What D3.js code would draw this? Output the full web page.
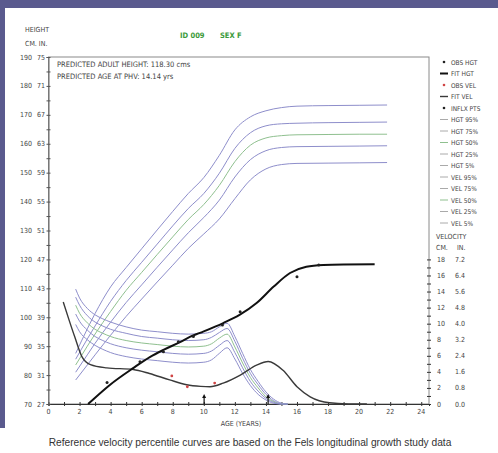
<!DOCTYPE html>
<html>
<head>
<meta charset="utf-8">
<script src="https://cdn.jsdelivr.net/npm/d3@7"></script>
<style>
body { margin: 0; background: #fff; }
svg text { font-family: "Liberation Sans Narrow", "DejaVu Sans Condensed", "Liberation Sans", sans-serif; }
</style>
</head>
<body>
<div class="canvas"></div>
<script>
// ---- data ----
const refHgtAges = [1.75, 2.5, 3, 4, 5, 6, 7, 8, 9, 10, 11, 12, 13, 14, 15, 16, 18, 20, 21.8];
const hgt95 = [87.5, 96, 101.3, 110.5, 117.2, 123.7, 130.2, 136.6, 142.8, 148.3, 156, 164.8, 169.3, 171.4, 172.5, 173, 173.2, 173.3, 173.4];
const hgt75 = [85.5, 92.5, 97, 105.5, 112.7, 119, 125.3, 131.6, 137.6, 142.8, 149.8, 158.4, 163.8, 166.2, 166.9, 167.1, 167.3, 167.4, 167.5];
const hgt50 = [83.5, 90, 94.2, 102, 109.3, 115.5, 121.7, 127.8, 133.8, 139, 145.6, 153.8, 159.5, 162, 162.8, 163.1, 163.2, 163.3, 163.3];
const hgt25 = [81, 87, 91, 98.3, 105.1, 111.2, 117.3, 123.3, 129.2, 134.5, 140.5, 148.5, 154.5, 157.6, 158.7, 159, 159.1, 159.2, 159.3];
const hgt5 = [78.3, 83.5, 87, 93.8, 100.3, 106.3, 112.2, 118, 123.8, 128.8, 134, 141, 147.5, 151.3, 152.8, 153.2, 153.3, 153.4, 153.5];

const refVelAges = [1.75, 2, 2.5, 3, 3.5, 4, 5, 6, 7, 8, 9, 10, 10.5, 11, 11.5, 12, 12.5, 13, 13.5, 14, 14.5, 15, 15.4];
const vel95 = [14.3, 13.2, 11.9, 11.1, 10.6, 10.2, 9.6, 9.2, 9.0, 8.8, 8.7, 8.8, 9.0, 9.6, 10.05, 8.4, 6.3, 4.3, 2.8, 1.5, 0.6, 0.1, 0];
const vel75 = [13.3, 12.3, 11.0, 10.2, 9.7, 9.3, 8.8, 8.4, 8.2, 8.0, 7.9, 8.0, 8.3, 8.9, 9.4, 7.8, 5.7, 3.8, 2.4, 1.2, 0.4, 0.05, 0];
const vel50 = [12.3, 11.3, 10.1, 9.3, 8.8, 8.4, 7.9, 7.6, 7.4, 7.2, 7.1, 7.2, 7.5, 8.2, 8.7, 7.1, 5.1, 3.3, 2.0, 0.9, 0.3, 0, 0];
const vel25 = [11.2, 10.3, 9.2, 8.4, 7.9, 7.5, 7.0, 6.7, 6.5, 6.3, 6.2, 6.3, 6.6, 7.3, 7.9, 6.4, 4.5, 2.8, 1.6, 0.7, 0.2, 0, 0];
const vel5 = [9.9, 9.0, 8.0, 7.3, 6.8, 6.4, 5.9, 5.6, 5.4, 5.2, 5.1, 5.2, 5.5, 6.3, 7.0, 5.6, 3.8, 2.3, 1.2, 0.5, 0.1, 0, 0];

const fitHgtAges = [2.55, 3.0, 3.95, 5.45, 6.55, 7.4, 8.5, 9.1, 9.75, 11.25, 12.3, 13.4, 14.5, 15.55, 16.6, 17.7, 19, 21];
const fitHgt = [70, 72.2, 76.6, 82.4, 86.3, 88.7, 91.5, 93.2, 94.6, 98, 100.8, 104.9, 110.6, 115.3, 117.5, 118.1, 118.25, 118.3];

const fitVelAges = [0.95, 1.3, 1.7, 2.15, 2.7, 3.75, 5.45, 6.5, 7.8, 8.9, 9.8, 10.4, 11.25, 12.35, 13.4, 14.15, 15.1, 16, 16.85, 18.1, 19.3, 20.5];
const fitVel = [12.7, 10.6, 8.3, 5.9, 4.9, 4.5, 4.3, 3.8, 3.0, 2.4, 2.2, 2.15, 2.6, 3.6, 4.85, 5.3, 4.2, 2.15, 0.9, 0.15, 0.02, 0];

const obsHgtAges = [3.77, 5.89, 7.4, 8.36, 9.33, 11.2, 12.34, 16.0, 17.4];
const obsHgt = [77.4, 84.6, 88.1, 91.5, 93.3, 97.3, 101.9, 114.0, 118.1];
const obsVelAges = [7.94, 8.94, 10.7];
const obsVel = [3.5, 2.15, 2.6];
const inflexAges = [10.02, 14.14];

const hgtTicks = [70, 80, 90, 100, 110, 120, 130, 140, 150, 160, 170, 180, 190];
const hgtInchLabels = ['27', '31', '35', '39', '43', '47', '51', '55', '59', '63', '67', '71', '75'];
const velTicks = [0, 2, 4, 6, 8, 10, 12, 14, 16, 18];
const velInchLabels = ['0.0', '0.8', '1.6', '2.4', '3.2', '4.0', '4.8', '5.6', '6.4', '7.2'];
const ageTicks = [0, 2, 4, 6, 8, 10, 12, 14, 16, 18, 20, 22, 24];

const legendLabels = ['OBS HGT', 'FIT HGT', 'OBS VEL', 'FIT VEL', 'INFLX PTS',
	'HGT 95%', 'HGT 75%', 'HGT 50%', 'HGT 25%', 'HGT  5%',
	'VEL 95%', 'VEL 75%', 'VEL 50%', 'VEL 25%', 'VEL  5%'];

const blue = '#8e8ecb';
const green = '#8fc08f';
const ink = '#333';

const svg = d3.select('.canvas')
	.append('svg')
	.attr('width', 498)
	.attr('height', 453);

// background frame
svg.append('rect').attr('width', 498).attr('height', 453).attr('fill', '#fff');
svg.append('rect').attr('width', 498).attr('height', 8).attr('fill', '#5a5a8e');
svg.append('rect').attr('width', 5).attr('height', 428).attr('fill', '#5a5a8e');

// scales
const x = d3.scaleLinear().domain([0, 24.5]).range([48.5, 429]);
const yH = d3.scaleLinear().domain([70, 190]).range([404, 57]);
const yV = d3.scaleLinear().domain([0, 18]).range([404, yH(120)]);

// plot box
svg.append('rect')
	.attr('x', x(0)).attr('y', yH(190))
	.attr('width', x(24.5) - x(0)).attr('height', yH(70) - yH(190))
	.attr('fill', 'none').attr('stroke', '#8a8a8a');

// axes
const xAxis = svg.append('g')
	.attr('transform', `translate(0,${yH(70)})`)
	.call(d3.axisBottom(x).tickValues(d3.range(0, 25, 1)).tickSize(2).tickFormat(''));
xAxis.selectAll('.tick line').attr('y1', -2).attr('y2', 2).attr('stroke', ink);
xAxis.select('.domain').attr('stroke', ink);
svg.append('g').selectAll('text')
	.data(ageTicks).enter().append('text')
	.attr('x', d => x(d)).attr('y', yH(70) + 9.5)
	.attr('text-anchor', 'middle').attr('font-size', 7).attr('fill', '#444')
	.text(d => d);

const yAxis = svg.append('g')
	.attr('transform', `translate(${x(0)},0)`)
	.call(d3.axisLeft(yH).tickValues(d3.range(70, 191, 5)).tickSize(2).tickFormat(''));
yAxis.selectAll('.tick line').attr('x1', -2).attr('x2', 2).attr('stroke', '#555');
yAxis.select('.domain').attr('stroke', '#666');
svg.append('g').selectAll('text')
	.data(hgtTicks).enter().append('text')
	.attr('x', 32).attr('y', d => yH(d) + 2.5)
	.attr('text-anchor', 'end').attr('font-size', 7).attr('fill', '#444')
	.text(d => d);
svg.append('g').selectAll('text')
	.data(hgtInchLabels).enter().append('text')
	.attr('x', 45).attr('y', (d, i) => yH(hgtTicks[i]) + 2.5)
	.attr('text-anchor', 'end').attr('font-size', 7).attr('fill', '#444')
	.text(d => d);

const vAxis = svg.append('g')
	.attr('transform', `translate(${x(24.5)},0)`)
	.call(d3.axisRight(yV).tickValues(d3.range(0, 19, 1)).tickSize(2).tickFormat(''));
vAxis.selectAll('.tick line').attr('x1', -2).attr('x2', 2).attr('stroke', ink);
vAxis.select('.domain').remove();
svg.append('g').selectAll('text')
	.data(velTicks).enter().append('text')
	.attr('x', 437).attr('y', d => yV(d) + 2.5)
	.attr('font-size', 7).attr('fill', '#444')
	.text(d => d);
svg.append('g').selectAll('text')
	.data(velInchLabels).enter().append('text')
	.attr('x', 455).attr('y', (d, i) => yV(velTicks[i]) + 2.5)
	.attr('font-size', 7).attr('fill', '#444')
	.text(d => d);

// titles
const label = (tx, ty, s, size, fill) => svg.append('text')
	.attr('x', tx).attr('y', ty).attr('font-size', size).attr('fill', fill || '#444').text(s);
label(25, 32, 'HEIGHT', 7);
label(25, 46, 'CM.  IN.', 7);
label(180, 38, 'ID 009', 7.5, '#3a9a3a').attr('font-weight', 'bold');
label(220, 38, 'SEX F', 7.5, '#3a9a3a').attr('font-weight', 'bold');
label(57, 67, 'PREDICTED ADULT HEIGHT: 118.30 cms', 7.5);
label(57, 79, 'PREDICTED AGE AT PHV:     14.14 yrs', 7.5);
label(436, 239, 'VELOCITY', 7);
label(436, 250, 'CM.', 7);
label(457, 250, 'IN.', 7);
svg.append('text').attr('x', 241).attr('y', 426)
	.attr('text-anchor', 'middle').attr('font-size', 7).attr('fill', '#444')
	.text('AGE (YEARS)');
svg.append('text').attr('x', 250).attr('y', 446)
	.attr('text-anchor', 'middle').attr('font-size', 10.2).attr('fill', '#333')
	.style('font-family', '"Liberation Sans", Arial, sans-serif')
	.text('Reference velocity percentile curves are based on the Fels longitudinal growth study data');

// curves
const hLine = d3.line().x(d => x(d[0])).y(d => yH(d[1])).curve(d3.curveMonotoneX);
const vLine = d3.line().x(d => x(d[0])).y(d => yV(d[1])).curve(d3.curveMonotoneX);
const zip = (a, b) => a.map((v, i) => [v, b[i]]);

const hgtRefs = [[hgt95, blue], [hgt75, blue], [hgt50, green], [hgt25, blue], [hgt5, blue]];
const velRefs = [[vel95, blue], [vel75, blue], [vel50, green], [vel25, blue], [vel5, blue]];

svg.append('g').selectAll('path')
	.data(hgtRefs).enter().append('path')
	.attr('d', d => hLine(zip(refHgtAges, d[0])))
	.attr('fill', 'none').attr('stroke', d => d[1]).attr('stroke-width', 1);
svg.append('g').selectAll('path')
	.data(velRefs).enter().append('path')
	.attr('d', d => vLine(zip(refVelAges, d[0])))
	.attr('fill', 'none').attr('stroke', d => d[1]).attr('stroke-width', 1);

svg.append('path')
	.attr('d', vLine(zip(fitVelAges, fitVel)))
	.attr('fill', 'none').attr('stroke', '#3a3a3a').attr('stroke-width', 1.4);
svg.append('path')
	.attr('d', hLine(zip(fitHgtAges, fitHgt)))
	.attr('fill', 'none').attr('stroke', '#111').attr('stroke-width', 2);

// observed points
svg.append('g').selectAll('circle')
	.data(zip(obsHgtAges, obsHgt)).enter().append('circle')
	.attr('cx', d => x(d[0])).attr('cy', d => yH(d[1])).attr('r', 1.5).attr('fill', '#222');
svg.append('g').selectAll('circle')
	.data(zip(obsVelAges, obsVel)).enter().append('circle')
	.attr('cx', d => x(d[0])).attr('cy', d => yV(d[1])).attr('r', 1.4).attr('fill', '#d04545');

// inflection arrows
const arrows = svg.append('g').selectAll('g')
	.data(inflexAges).enter().append('g')
	.attr('transform', d => `translate(${x(d)},${yV(0)})`);
arrows.append('line').attr('y1', 0).attr('y2', -8).attr('stroke', '#111').attr('stroke-width', 1.2);
arrows.append('path').attr('d', 'M-2,-6 L0,-10 L2,-6 Z').attr('fill', '#111');

// legend
const legend = svg.append('g').selectAll('g')
	.data(legendLabels).enter().append('g')
	.attr('transform', (d, i) => `translate(441,${62 + i * 11.5})`);
legend.append('text').attr('x', 10).attr('y', 2.5).attr('font-size', 6.5).attr('fill', '#444')
	.text(d => d);
legend.filter((d, i) => i == 0 || i == 2 || i == 4).append('circle')
	.attr('cx', 3).attr('r', 1.3).attr('fill', (d, i) => i == 1 ? '#d04545' : '#222');
legend.filter((d, i) => i == 1 || i == 3 || i >= 5).append('line')
	.attr('x1', -1).attr('x2', 7)
	.attr('stroke', d => d == 'FIT HGT' ? '#111' : d == 'FIT VEL' ? '#3a3a3a' : (d.indexOf('50') > 0 ? green : '#aaa'))
	.attr('stroke-width', d => d == 'FIT HGT' ? 2 : d == 'FIT VEL' ? 1.4 : 1);
</script>
</body>
</html>
